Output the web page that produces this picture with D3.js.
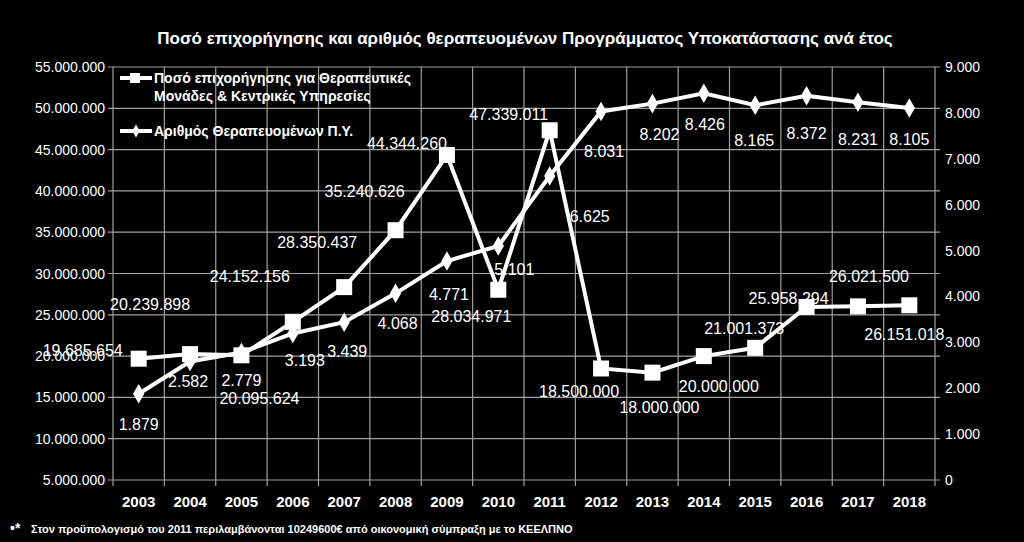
<!DOCTYPE html><html><head><meta charset="utf-8"><script src="https://cdn.jsdelivr.net/npm/d3@7"></script>
<style>body{margin:0;background:#000}svg{display:block}text{font-family:"Liberation Sans",Arial,sans-serif;fill:#fff}</style></head><body><svg id="c" width="1024" height="542"></svg><script>
const years=["2003","2004","2005","2006","2007","2008","2009","2010","2011","2012","2013","2014","2015","2016","2017","2018"];
const amounts=[19685654,20239898,20095624,24152156,28350437,35240626,44344260,28034971,47339011,18500000,18000000,20000000,21001373,25958294,26021500,26151018];
const patients=[1879,2582,2779,3193,3439,4068,4771,5101,6625,8031,8202,8426,8165,8372,8231,8105];
const leftTicks=[5e6,10e6,15e6,20e6,25e6,30e6,35e6,40e6,45e6,50e6,55e6];
const rightTicks=[0,1000,2000,3000,4000,5000,6000,7000,8000,9000];
// label offsets (style, not data)
const aOff=[[-56,-9],[-40,-50],[18,43],[-43,-46],[-27,-45],[-31,-39],[-40,-12],[-27,26],[-41,-16],[-22,23],[7,34],[15,30],[-11,-20],[-18,-9],[11,-30],[-5,29]];
const pOff=[[0,30],[-2,19],[0,28],[12,27],[3,29],[2,30],[2,33],[16,23],[40,40],[3,40],[7,30],[1,31],[-1,35],[0,37],[0,37],[0,31]];
const fmt=v=>String(v).replace(/\B(?=(\d{3})+(?!\d))/g,".");
const svg=d3.select("#c");
const L=113,R=935,T=67,B=480;
const x=d3.scaleBand().domain(years).range([L,R]);
const yl=d3.scaleLinear().domain([5e6,55e6]).range([B,T]);
const yr=d3.scaleLinear().domain([0,9000]).range([B,T]);
svg.append("text").attr("x",525).attr("y",44).attr("text-anchor","middle").attr("font-size",17).attr("font-weight","bold").text("Ποσό επιχορήγησης και αριθμός θεραπευομένων Προγράμματος Υποκατάστασης ανά έτος");
const g=svg.append("g");
g.selectAll(".h").data(leftTicks).join("line").attr("x1",L-5).attr("x2",R+5).attr("y1",d=>yl(d)).attr("y2",d=>yl(d)).attr("stroke","#a0a0a0").attr("stroke-width",1.2);
const bounds=years.map(y=>x(y)).concat([R]);
g.selectAll(".v").data(bounds).join("line").attr("x1",d=>d).attr("x2",d=>d).attr("y1",T).attr("y2",B+6).attr("stroke","#a0a0a0").attr("stroke-width",1.2);
g.selectAll(".lt").data(leftTicks).join("text").attr("x",L-8).attr("y",d=>yl(d)+5).attr("text-anchor","end").attr("font-size",14).text(fmt);
g.selectAll(".rt").data(rightTicks).join("text").attr("x",R+10).attr("y",d=>yr(d)+5).attr("font-size",14).text(fmt);
g.selectAll(".xt").data(years).join("text").attr("x",d=>x(d)+x.bandwidth()/2).attr("y",B+27).attr("text-anchor","middle").attr("font-size",15).attr("font-weight","bold").text(d=>d);
const cx=i=>x(years[i])+x.bandwidth()/2;
const line1=d3.line().x((d,i)=>cx(i)).y(d=>yl(d));
const line2=d3.line().x((d,i)=>cx(i)).y(d=>yr(d));
svg.append("path").attr("d",line2(patients)).attr("fill","none").attr("stroke","#fff").attr("stroke-width",4);
svg.append("path").attr("d",line1(amounts)).attr("fill","none").attr("stroke","#fff").attr("stroke-width",4);
svg.selectAll(".dm").data(patients).join("path").attr("d",d3.symbol(d3.symbolDiamond,110)).attr("transform",(d,i)=>`translate(${cx(i)},${yr(d)})`).attr("fill","#fff");
svg.selectAll(".sq").data(amounts).join("rect").attr("x",(d,i)=>cx(i)-8).attr("y",d=>yl(d)-8).attr("width",16).attr("height",16).attr("fill","#fff");
svg.selectAll(".al").data(amounts).join("text").attr("x",(d,i)=>cx(i)+aOff[i][0]).attr("y",(d,i)=>yl(d)+aOff[i][1]+6).attr("text-anchor","middle").attr("font-size",16).text(fmt);
svg.selectAll(".pl").data(patients).join("text").attr("x",(d,i)=>cx(i)+pOff[i][0]).attr("y",(d,i)=>yr(d)+pOff[i][1]+6).attr("text-anchor","middle").attr("font-size",16).text(fmt);
// legend
const lg=svg.append("g");
lg.append("line").attr("x1",120).attr("x2",152).attr("y1",78).attr("y2",78).attr("stroke","#fff").attr("stroke-width",4);
lg.append("rect").attr("x",130).attr("y",73).attr("width",10).attr("height",10).attr("fill","#fff");
lg.append("text").attr("x",154).attr("y",83).attr("font-size",14).attr("font-weight","bold").text("Ποσό επιχορήγησης για Θεραπευτικές");
lg.append("text").attr("x",154).attr("y",101).attr("font-size",14).attr("font-weight","bold").text("Μονάδες & Κεντρικές Υπηρεσίες");
lg.append("line").attr("x1",120).attr("x2",152).attr("y1",131).attr("y2",131).attr("stroke","#fff").attr("stroke-width",4);
lg.append("path").attr("d",d3.symbol(d3.symbolDiamond,50)).attr("transform","translate(136,131)").attr("fill","#fff");
lg.append("text").attr("x",154).attr("y",136).attr("font-size",14).attr("font-weight","bold").text("Αριθμός Θεραπευομένων Π.Υ.");
svg.append("text").attr("x",10).attr("y",533).attr("font-size",14).attr("font-weight","bold").text("•*");
svg.append("text").attr("x",31).attr("y",533).attr("font-size",11).attr("font-weight","bold").text("Στον προϋπολογισμό του 2011 περιλαμβάνονται 10249600€ από οικονομική σύμπραξη με το ΚΕΕΛΠΝΟ");
</script></body></html>
